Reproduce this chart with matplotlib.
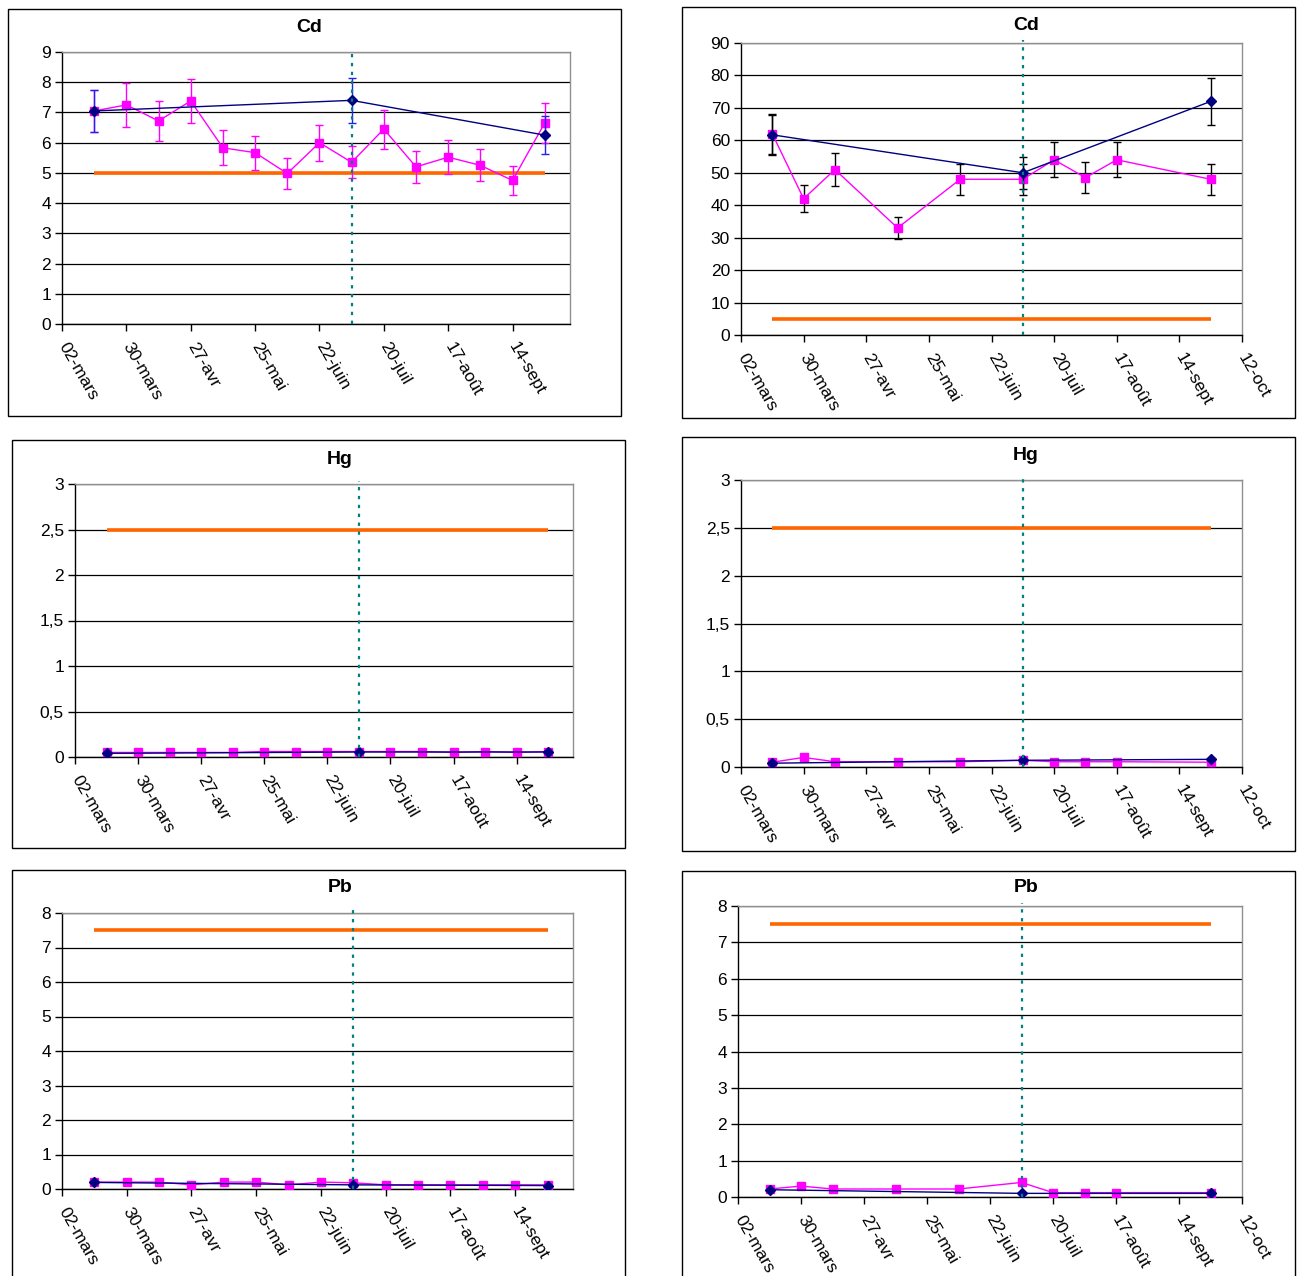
import numpy as np
import matplotlib
matplotlib.use("Agg")
import matplotlib.pyplot as plt
from matplotlib.patches import Rectangle
from matplotlib.ticker import FuncFormatter, MultipleLocator

plt.rcParams['font.family'] = ['Liberation Sans', 'DejaVu Sans']

# ---- sampling dates -------------------------------------------------------
left_dates = ['2007-03-16', '2007-03-30', '2007-04-13', '2007-04-27', '2007-05-11',
              '2007-05-25', '2007-06-08', '2007-06-22', '2007-07-06', '2007-07-20',
              '2007-08-03', '2007-08-17', '2007-08-31', '2007-09-14', '2007-09-28']
right_dates = ['2007-03-16', '2007-03-30', '2007-04-13', '2007-05-11', '2007-06-08',
               '2007-07-06', '2007-07-20', '2007-08-03', '2007-08-17', '2007-09-28']
blue_dates = ['2007-03-16', '2007-07-06', '2007-09-28']
event_date = '2007-07-06'

# ---- x tick positions and labels ------------------------------------------
tick_dates = ['2007-03-02', '2007-03-30', '2007-04-27', '2007-05-25', '2007-06-22',
              '2007-07-20', '2007-08-17', '2007-09-14', '2007-10-12']
tick_labels = ['02-mars', '30-mars', '27-avr', '25-mai', '22-juin',
               '20-juil', '17-août', '14-sept', '12-oct']

# ---- measured values -------------------------------------------------------
cd_left_pink = [7.05, 7.25, 6.72, 7.38, 5.83, 5.67, 4.98, 6.0, 5.35, 6.45, 5.2, 5.52, 5.25, 4.75, 6.65]
cd_left_blue = [7.05, 7.4, 6.25]
cd_right_pink = [62, 42, 51, 33, 48, 48, 54, 48.5, 54, 48]
cd_right_blue = [61.7, 50, 72]

hg_left_pink = [0.05, 0.05, 0.05, 0.05, 0.05, 0.06, 0.06, 0.06, 0.06, 0.06, 0.06, 0.05, 0.06, 0.05, 0.06]
hg_left_blue = [0.04, 0.055, 0.055]
hg_right_pink = [0.05, 0.10, 0.055, 0.055, 0.055, 0.07, 0.055, 0.055, 0.055, 0.05]
hg_right_blue = [0.04, 0.07, 0.08]

pb_left_pink = [0.2, 0.2, 0.2, 0.12, 0.2, 0.2, 0.12, 0.2, 0.18, 0.12, 0.12, 0.12, 0.12, 0.12, 0.12]
pb_left_blue = [0.19, 0.12, 0.1]
pb_right_pink = [0.22, 0.3, 0.22, 0.22, 0.22, 0.4, 0.12, 0.12, 0.12, 0.12]
pb_right_blue = [0.2, 0.1, 0.1]

# regulatory thresholds
thresholds = {'Cd': 5, 'Hg': 2.5, 'Pb': 7.5}
error_fraction = 0.10

NAVY = '#000080'
MAGENTA = '#FF00FF'
ORANGE = '#FF6600'
TEAL = '#008080'

W, H = 1300, 1276
fig = plt.figure(figsize=(W / 100, H / 100), dpi=100)


def fig_rect(x0, y0, x1, y1):
    return [x0 / W, 1 - y1 / H, (x1 - x0) / W, (y1 - y0) / H]


def frame(x0, y0, x1, y1):
    fig.add_artist(Rectangle((x0 / W, 1 - y1 / H), (x1 - x0) / W, (y1 - y0) / H,
                             transform=fig.transFigure, fill=False,
                             edgecolor='black', linewidth=1.0))


def comma(v, pos):
    s = ('%g' % v)
    return s.replace('.', ',')


def panel(rect, title, title_xy, dates_p, pink, blue, ymax, ystep,
          xmax, ntick, err_pink, err_blue):
    ax = fig.add_axes(fig_rect(*rect))
    dp = np.array(dates_p, dtype='datetime64[D]')
    db = np.array(blue_dates, dtype='datetime64[D]')
    pink = np.asarray(pink, float)
    blue = np.asarray(blue, float)

    thr = thresholds[title]
    ax.plot([dp[0], dp[-1]], [thr, thr], color=ORANGE, lw=2.6,
            solid_capstyle='butt', zorder=3)

    ax.errorbar(dp, pink, yerr=pink * error_fraction, color=MAGENTA, lw=1.0,
                marker='s', ms=6, mfc=MAGENTA, mec=MAGENTA,
                ecolor=err_pink, elinewidth=1.0, capsize=3, capthick=1.0, zorder=4)
    ax.errorbar(db, blue, yerr=blue * error_fraction, color=NAVY, lw=1.0,
                marker='D', ms=5, mfc=NAVY, mec=NAVY,
                ecolor=err_blue, elinewidth=1.0, capsize=3, capthick=1.0, zorder=5)

    ax.axvline(np.datetime64(event_date), ymin=0, ymax=1.01, clip_on=False,
               color=TEAL, lw=1.6, linestyle=(0, (1.5, 2.5)), zorder=6)

    ax.set_xlim(np.datetime64('2007-03-02'), np.datetime64(xmax))
    ax.set_ylim(0, ymax)
    ax.yaxis.set_major_locator(MultipleLocator(ystep))
    ax.yaxis.set_major_formatter(FuncFormatter(comma))
    ax.set_xticks(np.array(tick_dates[:ntick], dtype='datetime64[D]'))
    ax.set_xticklabels(tick_labels[:ntick], rotation=-60, rotation_mode='anchor',
                       ha='left', va='center')
    ax.tick_params(axis='both', direction='out', length=5, width=1,
                   labelsize=12.5, colors='black')
    ax.tick_params(axis='x', pad=9)
    ax.tick_params(axis='y', pad=3)
    ax.grid(axis='y', color='black', lw=0.9, zorder=1)
    ax.set_axisbelow(True)
    for s in ('left', 'bottom'):
        ax.spines[s].set_color('black')
        ax.spines[s].set_linewidth(1.0)
    for s in ('top', 'right'):
        ax.spines[s].set_color('#909090')
        ax.spines[s].set_linewidth(1.0)
    fig.text(title_xy[0] / W, 1 - title_xy[1] / H, title, ha='center', va='center',
             fontsize=14, fontweight='bold')
    return ax


# outer frames around each chart
frame(8, 9, 621, 416)
frame(682, 7, 1295, 418)
frame(12, 440, 625, 848)
frame(682, 437, 1295, 851)
frame(12, 870, 625, 1290)
frame(682, 871, 1295, 1290)

LEFT_END = '2007-10-09'
RIGHT_END = '2007-10-12'

panel((62, 52, 570, 324), 'Cd', (309, 27), left_dates, cd_left_pink, cd_left_blue,
      9, 1, LEFT_END, 8, MAGENTA, '#2222EE')
panel((741, 43, 1242, 335), 'Cd', (1026, 25), right_dates, cd_right_pink, cd_right_blue,
      90, 10, RIGHT_END, 9, 'black', 'black')
panel((75, 484, 573, 757), 'Hg', (340, 459), left_dates, hg_left_pink, hg_left_blue,
      3, 0.5, LEFT_END, 8, MAGENTA, '#2222EE')
panel((741, 480, 1242, 767), 'Hg', (1026, 456), right_dates, hg_right_pink, hg_right_blue,
      3, 0.5, RIGHT_END, 9, 'black', 'black')
panel((62, 913, 573, 1189), 'Pb', (340, 888), left_dates, pb_left_pink, pb_left_blue,
      8, 1, LEFT_END, 8, MAGENTA, '#2222EE')
panel((738, 906, 1242, 1197), 'Pb', (1026, 888), right_dates, pb_right_pink, pb_right_blue,
      8, 1, RIGHT_END, 9, 'black', 'black')

fig.savefig('out.png', dpi=100, facecolor='white')
